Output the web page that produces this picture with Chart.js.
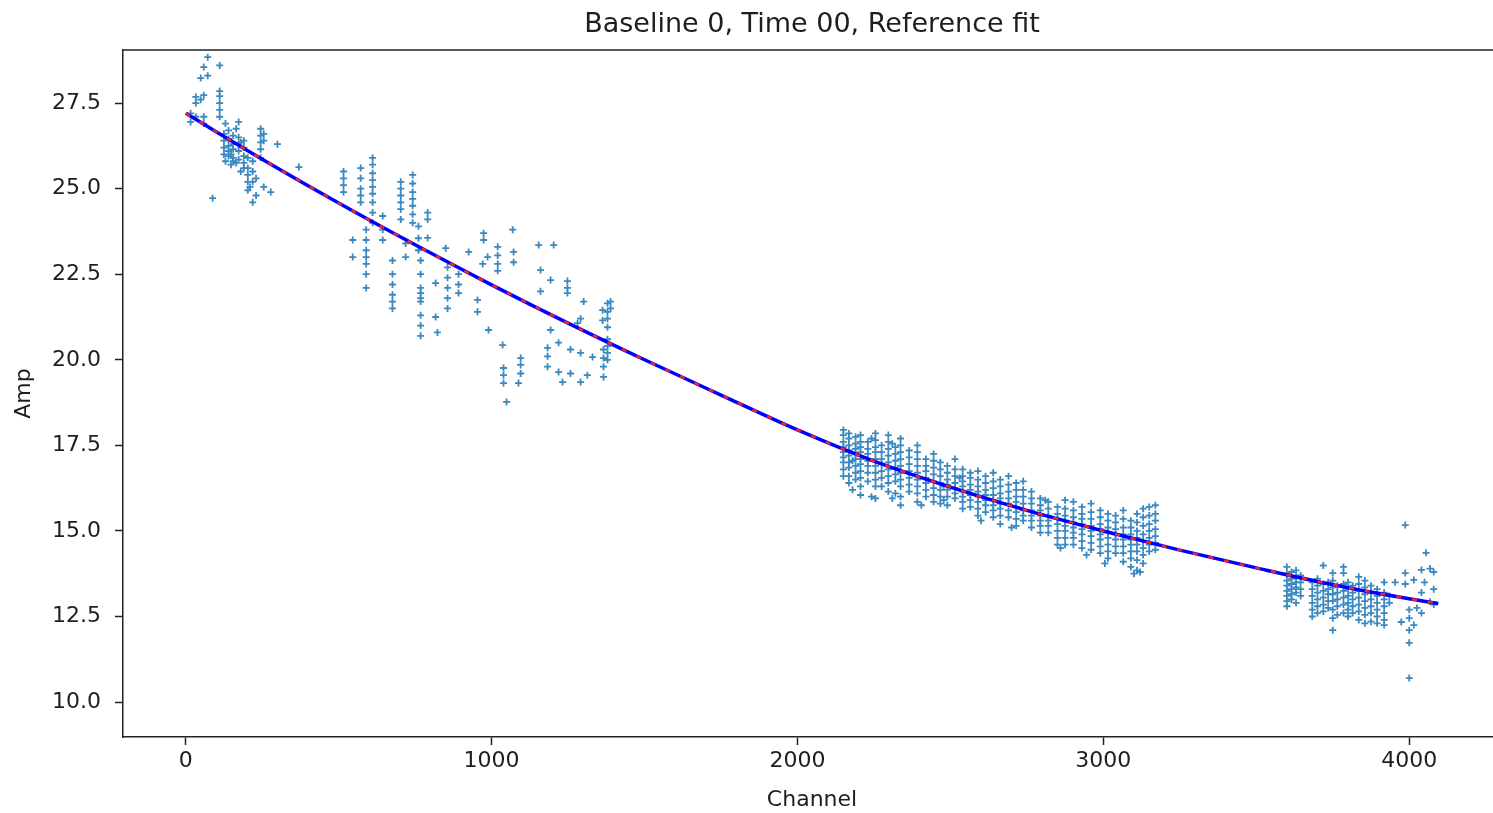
<!DOCTYPE html>
<html>
<head>
<meta charset="utf-8">
<title>Baseline 0, Time 00, Reference fit</title>
<script src="https://cdn.jsdelivr.net/npm/chart.js@4.4.1/dist/chart.umd.min.js"></script>
<style>
  html, body { margin: 0; padding: 0; background: #fff; overflow: hidden; }
  #wrap { width: 1510px; height: 813px; }
</style>
</head>
<body>
<div id="wrap"><canvas id="fitChart" width="1510" height="813"></canvas></div>
<script>
// text
var chartTitle = 'Baseline 0, Time 00, Reference fit';
var xLabel = 'Channel';
var yLabel = 'Amp';
var xTickValues = [0, 1000, 2000, 3000, 4000];
var yTickValues = [10.0, 12.5, 15.0, 17.5, 20.0, 22.5, 25.0, 27.5];

// reference fit
var fitChannels = [0, 250, 500, 750, 1000, 1250, 1500, 1750, 2000, 2250, 2500, 2750, 3000, 3250, 3500, 3750, 4000, 4095];
var fitAmps = [27.20, 25.86, 24.58, 23.36, 22.19, 21.07, 20.00, 18.97, 17.95, 17.04, 16.28, 15.60, 15.00, 14.44, 13.92, 13.43, 13.02, 12.88];

// measured points, grouped as [channel, [amps at that channel]]
var startStreaks = [
  [16, [27.2, 26.95]],
  [33, [27.68, 27.5, 27.1]],
  [49, [28.23, 27.6]],
  [59, [28.55, 27.73, 27.1, 26.9]],
  [72, [28.84, 28.3]],
  [88, [24.72]],
  [111, [28.6, 27.85, 27.7, 27.5, 27.3, 27.1]],
  [125, [26.6, 26.4, 26.2, 26.0]],
  [130, [26.9, 25.8]],
  [140, [26.7, 26.45, 26.25, 26.1, 25.95]],
  [148, [26.0, 25.7]],
  [155, [26.55, 26.3, 26.15, 25.9, 25.8]],
  [165, [26.75, 25.75]],
  [173, [26.95, 26.5, 26.3, 26.1, 25.85]],
  [180, [26.35, 25.5]],
  [190, [26.4, 26.2, 25.95, 25.75, 25.6]],
  [203, [25.9, 25.6, 25.4, 25.2, 24.95]],
  [210, [25.05]],
  [219, [25.8, 25.5, 25.2, 24.6]],
  [230, [25.3, 24.8]],
  [245, [26.75, 26.55, 26.35, 26.15, 25.9]],
  [255, [26.6, 26.4, 25.05]],
  [278, [24.9]],
  [300, [26.3]],
  [370, [25.63]]
];

var lowStreaks = [
  [516, [25.5, 25.3, 25.1, 24.9]],
  [546, [23.5, 23.0]],
  [572, [25.6, 25.3, 25.0, 24.8, 24.6]],
  [590, [23.8, 23.5, 23.2, 23.0, 22.8, 22.5, 22.1]],
  [611, [25.9, 25.7, 25.45, 25.25, 25.05, 24.85, 24.6, 24.3, 24.0]],
  [644, [24.2, 23.8, 23.5]],
  [676, [22.9, 22.5, 22.2, 21.9, 21.7, 21.5]],
  [703, [25.2, 25.0, 24.8, 24.6, 24.4, 24.1]],
  [719, [23.4, 23.0]],
  [742, [25.4, 25.15, 24.9, 24.7, 24.5, 24.25, 24.0]],
  [761, [23.9, 23.55, 23.2]],
  [768, [22.9, 22.5, 22.1, 21.95, 21.8, 21.7, 21.3, 21.0, 20.7]],
  [791, [24.3, 24.1, 23.56]],
  [817, [22.24, 21.25]],
  [823, [20.8]],
  [850, [23.26]],
  [856, [22.7, 22.4, 22.1, 21.8, 21.5]],
  [892, [22.5, 22.2, 21.95]],
  [925, [23.15]],
  [954, [21.75, 21.4]],
  [971, [22.8]],
  [974, [23.7, 23.5]],
  [987, [23.0]],
  [990, [20.87]],
  [1020, [23.3, 23.05, 22.8, 22.6]],
  [1036, [20.43]],
  [1039, [19.76, 19.55, 19.32]],
  [1049, [18.77]],
  [1069, [23.8]],
  [1072, [23.15, 22.85]],
  [1088, [19.32]],
  [1095, [20.05, 19.85, 19.6]],
  [1154, [23.35]],
  [1160, [22.62, 22.0]],
  [1183, [20.35, 20.1, 19.8]],
  [1193, [22.33, 20.87]],
  [1203, [23.35]],
  [1219, [20.5, 19.64]],
  [1232, [19.35]],
  [1248, [22.3, 22.1, 21.95]],
  [1258, [20.3, 19.6]],
  [1281, [21.07]],
  [1291, [21.2, 20.2, 19.35]],
  [1301, [21.7]],
  [1313, [19.55]],
  [1330, [20.08]],
  [1363, [21.45, 21.15]],
  [1366, [20.3, 20.05, 19.8, 19.5]],
  [1379, [21.65, 21.4, 21.2, 20.95, 20.6, 20.4, 20.2, 20.0]],
  [1389, [21.7, 21.5]]
];

var midStreaks = [
  [2150, [17.95, 17.8, 17.6, 17.45, 17.3, 17.15, 17.0, 16.8, 16.6]],
  [2168, [17.85, 17.7, 17.5, 17.35, 17.2, 17.0, 16.85, 16.6, 16.4]],
  [2180, [17.05, 16.2]],
  [2190, [17.75, 17.55, 17.4, 17.25, 17.1, 16.9, 16.7, 16.5]],
  [2206, [17.8, 17.6, 17.45, 17.3, 17.1, 16.95, 16.75, 16.55, 16.3, 16.05]],
  [2230, [17.6, 17.4, 17.25, 17.05, 16.9, 16.7, 16.45]],
  [2242, [17.7, 16.0]],
  [2255, [17.85, 17.65, 17.45, 17.3, 17.1, 16.9, 16.7, 16.5, 16.3, 15.95]],
  [2275, [17.5, 17.3, 17.1, 16.95, 16.75, 16.55, 16.3]],
  [2297, [17.8, 17.6, 17.4, 17.2, 17.0, 16.8, 16.6, 16.4, 16.15]],
  [2310, [17.55, 15.95]],
  [2320, [17.45, 17.25, 17.05, 16.85, 16.65, 16.45, 16.1]],
  [2337, [17.7, 17.5, 17.3, 17.1, 16.9, 16.7, 16.5, 16.3, 16.0, 15.75]],
  [2365, [17.35, 17.15, 16.95, 16.75, 16.55, 16.35, 16.15]],
  [2392, [17.5, 17.3, 17.1, 16.9, 16.7, 16.5, 16.3, 16.1, 15.85]],
  [2405, [15.75]],
  [2420, [17.1, 16.9, 16.75, 16.55, 16.4, 16.2, 16.0]],
  [2445, [17.25, 17.05, 16.85, 16.65, 16.45, 16.25, 16.05, 15.85]],
  [2467, [17.0, 16.8, 16.6, 16.4, 16.2, 16.0, 15.8]],
  [2478, [16.3, 15.9]],
  [2490, [16.9, 16.7, 16.5, 16.35, 16.2, 16.0, 15.75]],
  [2515, [17.1, 16.8, 16.6, 16.4, 16.25, 16.1, 15.95]],
  [2530, [16.55]],
  [2540, [16.8, 16.6, 16.45, 16.3, 16.15, 16.0, 15.85, 15.65]],
  [2565, [16.7, 16.55, 16.35, 16.2, 16.05, 15.9, 15.7]],
  [2590, [16.75, 16.5, 16.3, 16.15, 16.0, 15.85, 15.65, 15.45]],
  [2600, [15.3]],
  [2615, [16.6, 16.4, 16.2, 16.05, 15.9, 15.75, 15.55]],
  [2640, [16.7, 16.45, 16.25, 16.05, 15.9, 15.75, 15.6, 15.4]],
  [2663, [16.5, 16.3, 16.1, 15.95, 15.8, 15.65, 15.45, 15.2]],
  [2690, [16.6, 16.35, 16.15, 15.95, 15.8, 15.6, 15.4]],
  [2700, [15.1]],
  [2715, [16.4, 16.2, 16.0, 15.85, 15.7, 15.55, 15.35, 15.15]],
  [2738, [16.45, 16.2, 16.0, 15.8, 15.6, 15.45, 15.3]],
  [2765, [16.15, 15.95, 15.8, 15.6, 15.45, 15.3, 15.1]],
  [2794, [15.95, 15.75, 15.6, 15.45, 15.3, 15.15, 14.95]],
  [2810, [15.9]],
  [2820, [15.85, 15.65, 15.45, 15.3, 15.15, 14.95]],
  [2850, [15.7, 15.5, 15.35, 15.2, 15.0, 14.8, 14.6]],
  [2860, [14.5]],
  [2875, [15.9, 15.65, 15.45, 15.3, 15.15, 15.0, 14.8, 14.6]],
  [2902, [15.85, 15.6, 15.4, 15.25, 15.1, 14.95, 14.8, 14.6]],
  [2930, [15.7, 15.5, 15.35, 15.2, 15.05, 14.9, 14.7, 14.5]],
  [2945, [14.3]],
  [2960, [15.8, 15.55, 15.35, 15.15, 15.0, 14.85, 14.65, 14.45]],
  [2990, [15.6, 15.4, 15.2, 15.05, 14.9, 14.75, 14.55, 14.35]],
  [3005, [14.05]],
  [3015, [15.5, 15.3, 15.1, 14.95, 14.8, 14.6, 14.4, 14.2]],
  [3040, [15.45, 15.25, 15.05, 14.9, 14.75, 14.55, 14.35]],
  [3065, [15.6, 15.35, 15.1, 14.9, 14.75, 14.55, 14.35, 14.1]],
  [3090, [15.3, 15.1, 14.9, 14.75, 14.6, 14.4, 14.2, 13.95]],
  [3100, [13.75]],
  [3110, [15.5, 15.25, 15.0, 14.8, 14.6, 14.4, 14.15, 13.85]],
  [3120, [13.8]],
  [3130, [15.65, 15.4, 15.15, 14.9, 14.7, 14.5, 14.3, 14.05]],
  [3150, [15.7, 15.45, 15.2, 15.0, 14.8, 14.6, 14.4]],
  [3170, [15.75, 15.5, 15.3, 15.05, 14.85, 14.65, 14.45]]
];

var highStreaks = [
  [3600, [13.95, 13.75, 13.55, 13.4, 13.25, 13.1, 12.95, 12.8]],
  [3615, [13.8, 13.6, 13.45, 13.3, 13.15, 13.0]],
  [3630, [13.85, 13.65, 13.5, 13.35, 13.2, 12.9]],
  [3645, [13.7, 13.5, 13.3, 13.1]],
  [3683, [13.5, 13.3, 13.1, 12.9, 12.7, 12.5]],
  [3700, [13.6, 13.4, 13.2, 13.0, 12.8, 12.6]],
  [3719, [13.99, 13.45, 13.25, 13.05, 12.85, 12.65]],
  [3735, [13.5, 13.3, 13.15, 12.95, 12.75]],
  [3750, [13.77, 13.55, 13.35, 13.15, 12.95, 12.7, 12.45, 12.1]],
  [3765, [13.4, 13.2, 13.0, 12.8, 12.55]],
  [3785, [13.95, 13.77, 13.45, 13.25, 13.05, 12.85, 12.6]],
  [3800, [13.5, 13.3, 13.1, 12.9, 12.7, 12.5]],
  [3815, [13.4, 13.2, 13.0, 12.8, 12.6]],
  [3835, [13.66, 13.45, 13.25, 13.05, 12.85, 12.65, 12.4]],
  [3855, [13.55, 13.35, 13.15, 12.95, 12.75, 12.55, 12.3]],
  [3875, [13.4, 13.2, 13.0, 12.8, 12.6, 12.35]],
  [3895, [13.3, 13.1, 12.9, 12.7, 12.5, 12.3]],
  [3918, [13.5, 13.2, 13.0, 12.8, 12.6, 12.4, 12.25]],
  [3935, [13.1, 12.9]],
  [3954, [13.5]],
  [3974, [12.34]],
  [3987, [15.17, 13.77, 13.45]],
  [4000, [12.7, 12.45, 12.1, 11.73, 10.7]],
  [4015, [13.57, 12.25]],
  [4025, [12.75]],
  [4040, [13.86, 13.2, 12.6]],
  [4050, [13.5]],
  [4055, [14.36]],
  [4068, [13.9, 12.93]],
  [4080, [13.8, 13.3, 12.85]]
];

function toPoints(streaks) {
  var pts = [];
  streaks.forEach(function (s) {
    s[1].forEach(function (a) { pts.push({x: s[0], y: a}); });
  });
  return pts;
}

var measured = [].concat(toPoints(startStreaks), toPoints(lowStreaks), toPoints(midStreaks), toPoints(highStreaks));
var fitLine = fitChannels.map(function (c, i) { return {x: c, y: fitAmps[i]}; });

var textColor = '#1e1e1e';
var axisFont = {family: 'DejaVu Sans', size: 22};

// title over the axes box plus the top spine (matplotlib draws a full frame)
var frameAndTitle = {
  id: 'frameAndTitle',
  afterDraw: function (chart) {
    var ctx = chart.ctx, a = chart.chartArea;
    ctx.save();
    ctx.strokeStyle = '#222';
    ctx.lineWidth = 1.5;
    ctx.beginPath();
    ctx.moveTo(a.left, a.top);
    ctx.lineTo(a.right + 10, a.top);
    ctx.stroke();
    ctx.fillStyle = textColor;
    ctx.font = '27px "DejaVu Sans"';
    ctx.textAlign = 'center';
    ctx.textBaseline = 'middle';
    ctx.fillText(chartTitle, (a.left + a.right) / 2, 25);
    ctx.restore();
  }
};

var ctx = document.getElementById('fitChart').getContext('2d');
var chart = new Chart(ctx, {
  type: 'scatter',
  data: {
    datasets: [{
      // red dashed fit, drawn last (on top)
      type: 'line',
      data: fitLine,
      borderColor: '#ff2020',
      borderWidth: 2.5,
      borderDash: [5, 11],
      pointRadius: 0,
      fill: false,
      cubicInterpolationMode: 'monotone'
    }, {
      type: 'line',
      data: fitLine,
      borderColor: '#0000ff',
      borderWidth: 3.5,
      pointRadius: 0,
      fill: false,
      cubicInterpolationMode: 'monotone'
    }, {
      data: measured,
      pointStyle: 'cross',
      pointRadius: 3.5,
      pointBorderWidth: 1.8,
      borderColor: '#3a88c0',
      backgroundColor: '#3a88c0'
    }]
  },
  options: {
    responsive: false,
    animation: false,
    devicePixelRatio: 1,
    layout: { padding: { top: 50, right: 9, left: 0, bottom: 0 } },
    plugins: {
      legend: { display: false },
      tooltip: { enabled: false },
      title: { display: false }
    },
    scales: {
      x: {
        type: 'linear',
        min: -205,
        max: 4300,
        afterBuildTicks: function (s) { s.ticks = xTickValues.map(function (v) { return {value: v}; }); },
        afterFit: function (s) { s.height = 76; },
        grid: { drawOnChartArea: false, drawTicks: true, tickLength: 8, tickWidth: 1.5, tickColor: '#222' },
        border: { display: true, color: '#222', width: 1.5 },
        ticks: {
          font: axisFont, color: textColor, padding: 3, maxRotation: 0,
          callback: function (v) { return String(v); }
        },
        title: { display: true, text: xLabel, font: axisFont, color: textColor, padding: { top: 0, bottom: 0 } }
      },
      y: {
        type: 'linear',
        min: 8.98,
        max: 29.05,
        afterBuildTicks: function (s) { s.ticks = yTickValues.map(function (v) { return {value: v}; }); },
        afterFit: function (s) { s.width = 123; },
        grid: { drawOnChartArea: false, drawTicks: true, tickLength: 8, tickWidth: 1.5, tickColor: '#222' },
        border: { display: true, color: '#222', width: 1.5 },
        ticks: {
          font: axisFont, color: textColor, padding: 14,
          callback: function (v) { return Number(v).toFixed(1); }
        },
        title: { display: true, text: yLabel, font: axisFont, color: textColor, padding: { top: 11, bottom: 0 } }
      }
    }
  },
  plugins: [frameAndTitle]
});
</script>
</body>
</html>
